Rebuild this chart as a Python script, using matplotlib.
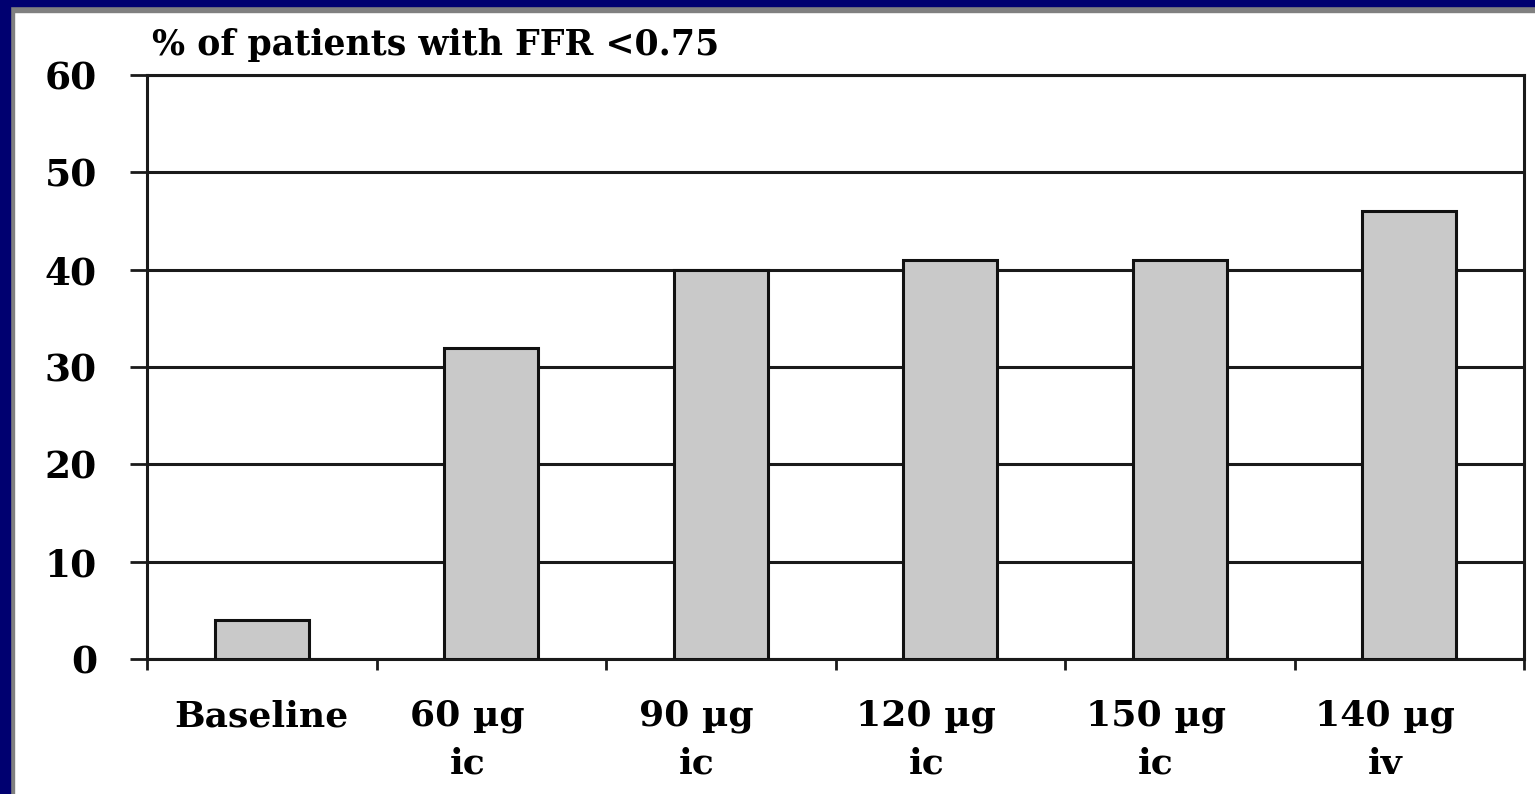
import matplotlib
matplotlib.use("Agg")
import matplotlib.pyplot as plt
import matplotlib.transforms as mtransforms
from matplotlib.patches import Rectangle

categories = ["Baseline", "60 µg\nic", "90 µg\nic", "120 µg\nic", "150 µg\nic", "140 µg\niv"]
values = [4, 32, 40, 41, 41, 46]
yticks = [0, 10, 20, 30, 40, 50, 60]
title = "% of patients with FFR <0.75"

W, H = 1535, 794
fig = plt.figure(figsize=(W / 100, H / 100), dpi=100)
fig.patch.set_facecolor("white")

def fx(px):
    return px / W

def fy(py):
    return 1 - py / H

# navy frame with gray inner edge
fig.patches.append(Rectangle((0, 0), fx(14), 1, transform=fig.transFigure, color="#808080", zorder=0))
fig.patches.append(Rectangle((0, fy(12)), 1, 12 / H, transform=fig.transFigure, color="#808080", zorder=0))
fig.patches.append(Rectangle((0, 0), fx(10), 1, transform=fig.transFigure, color="#000070", zorder=1))
fig.patches.append(Rectangle((0, fy(6)), 1, 6 / H, transform=fig.transFigure, color="#000070", zorder=1))

left, right, top, bottom = 147, 1524, 75, 659
ax = fig.add_axes([fx(left), fy(bottom), fx(right - left), (bottom - top) / H])
ax.set_facecolor("white")

n = len(categories)
xpos = [i + 0.5 for i in range(n)]
ax.bar(xpos, values, width=0.41, color="#c9c9c9", edgecolor="#111111", linewidth=2.2, zorder=3)

ax.set_xlim(0, n)
ax.set_ylim(0, 60)
ax.set_yticks(yticks)
ax.yaxis.grid(True, color="#1a1a1a", linewidth=2.2, zorder=1)
ax.set_axisbelow(True)

serif = ["DejaVu Serif"]
ax.set_yticklabels([str(v) for v in yticks], fontsize=27, fontweight="bold", family=serif)
ax.tick_params(axis="y", length=12, width=2, color="#1a1a1a", pad=24)

ax.set_xticks(range(n + 1))
ax.set_xticklabels([])
ax.set_xticks(xpos, minor=True)
ax.set_xticklabels(categories, minor=True, fontsize=26, fontweight="bold", family=serif, linespacing=1.5)
ax.tick_params(axis="x", which="major", length=8, width=2, color="#1a1a1a", direction="out")
ax.tick_params(axis="x", which="minor", length=0, pad=29)

for i, lbl in enumerate(ax.get_xticklabels(minor=True)):
    if i > 0:
        lbl.set_transform(lbl.get_transform() + mtransforms.ScaledTranslation(-24 / 100, 0, fig.dpi_scale_trans))

for s in ax.spines.values():
    s.set_color("#1a1a1a")
    s.set_linewidth(2.2)

fig.text(fx(152), fy(45), title, fontsize=25, fontweight="bold", family=serif, va="center", ha="left")

fig.savefig("out.png", dpi=100, facecolor="white")
